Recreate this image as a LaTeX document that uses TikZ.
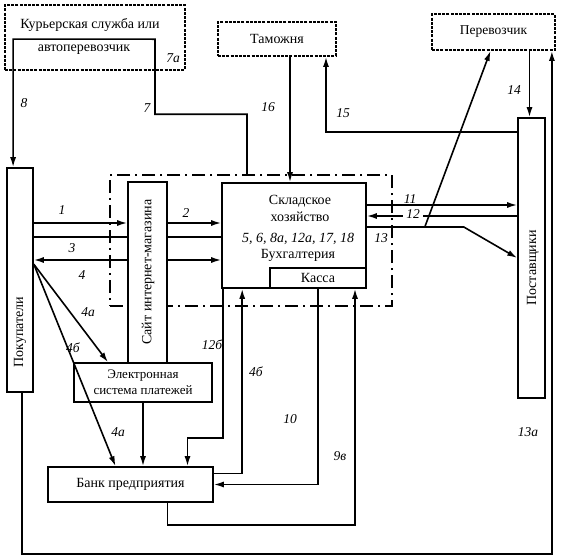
\documentclass[tikz,border=0pt]{standalone}
\usepackage{fontspec}
\setmainfont{Liberation Serif}
\usetikzlibrary{positioning}
\usetikzlibrary{arrows.meta}
\tikzstyle{box}=[draw, rectangle, inner sep=0pt]
\tikzstyle{dotbox}=[draw, rectangle, inner sep=0pt, line width=1.8pt, dash pattern=on 3pt off 1.2pt]
\tikzstyle{ddbox}=[draw, rectangle, inner sep=0pt, dash pattern=on 13pt off 5pt on 2pt off 5pt]
\tikzstyle{num}=[font=\fontsize{13.5}{15}\selectfont\itshape, inner sep=1pt]
\tikzstyle{conn}=[-{Latex[length=10pt,width=6pt]}]

\begin{document}
\begin{tikzpicture}[x=1pt, y=-1pt, line width=1.6pt, font=\fontsize{14}{16}\selectfont]
				\useasboundingbox (0,0) rectangle (566,560);
				
				\node (cour) [dotbox, minimum width=180, minimum height=65] at (95,37.5) {};
				\node (courA) at (90,25) {Курьерская служба или};
				\node (courB) at (84,50) {автоперевозчик};
				\node (tam) [dotbox, minimum width=118, minimum height=34] at (277,39) {Таможня};
				\node (per) [dotbox, minimum width=123, minimum height=36, font=\fontsize{13.5}{15}\selectfont] at (493.5,32) {Перевозчик};
				
				\node (org) [ddbox, minimum width=282, minimum height=131] at (251,240.5) {};
				
				\node (buy) [box, minimum width=26, minimum height=224] at (20,280) {};
				\node (buyT) [rotate=90] at (20,332) {Покупатели};
				\node (site) [box, fill=white, minimum width=39, minimum height=181] at (147.5,272.5) {};
				\node (siteT) [rotate=90] at (148,272) {Сайт интернет-магазина};
				
				\node (wh) [box, minimum width=144, minimum height=105] at (294,235.5) {};
				\node (kassa) [box, minimum width=96, minimum height=20, anchor=south east] at (wh.south east) {Касса};
				\node (whA) [align=center, font=\fontsize{14}{17}\selectfont] at (300,208) {Складское\\хозяйство};
				\node (whB) [align=center] at (298,247) {\textit{5, 6, 8а, 12а, 17, 18}\\Бухгалтерия};
				
				\node (eps) [box, minimum width=138, minimum height=39, align=center, font=\fontsize{13}{16}\selectfont] at (143,382.5) {Электронная\\система платежей};
				\node (bank) [box, minimum width=165, minimum height=35] at (130.5,484.5) {Банк предприятия};
				\node (sup) [box, minimum width=27, minimum height=280] at (531.5,258) {};
				\node (supT) [rotate=90] at (533,268) {Поставщики};
				
				\coordinate (y1) at (0,223);
				\coordinate (y3) at (0,237);
				\coordinate (y4) at (0,260);
				\coordinate (y11) at (0,205);
				\coordinate (y12) at (0,216);
				\coordinate (y13) at (0,227);
				
				\draw [conn] (buy.east |- y1) -- (site.west |- y1);
				\draw [conn] (site.east |- y1) -- (wh.west |- y1);
				\draw (wh.west |- y3) -- (site.east |- y3);
				\draw (site.west |- y3) -- (buy.east |- y3);
				\draw [conn] (site.east |- y4) -- (wh.west |- y4);
				\draw [conn] (site.west |- y4) -- (buy.east |- y4);
				
				\path (buy.north east) ++(0,97) coordinate (fan);
				\draw [conn] (fan) -- ([xshift=-35]eps.north);
				\draw [conn] (fan) -- ([xshift=-15]bank.north);
				\draw [conn] (eps.south) -- (eps.south |- bank.north);
				\draw [conn] ([xshift=2]wh.south west) -- ++(0,149) -| ([xshift=57]bank.north);
				\draw [conn] ([yshift=11]bank.east) -| ([xshift=21]wh.south west);
				\draw [conn] (kassa.south) |- (bank.east);
				\draw [conn] ([xshift=37]bank.south) -- ++(0,22) -| ([xshift=37]kassa.south);
				
				\coordinate (c7) at ([xshift=-4]org.north);
				\path (cour.north west) ++(9,35) coordinate (c8);
				\draw [conn] (c7) -- ++(0,-60) -- ++(-92,0) -- ++(0,-75) -- (c8) -- (c8 |- buy.north);
				
				\path ([xshift=13]tam.south) coordinate (c16);
				\draw [conn] (c16) -- (c16 |- wh.north);
				\path ([yshift=-15]sup.north west) coordinate (c15);
				\draw [conn] (c15) -| ([xshift=49]tam.south);
				\path ([xshift=36]per.south) coordinate (c14);
				\draw [conn] (c14) -- (c14 |- sup.north);
				\draw [conn] ([xshift=2]buy.south) -- ++(0,161) -| ([xshift=-4]per.south east);
				
				\draw [conn] (wh.east |- y11) -- (sup.west |- y11);
				\draw [conn] (sup.west |- y12) -- (wh.east |- y12);
				\draw [conn] (wh.east |- y13) -- ++(97,0) -- (sup.west);
				\path (wh.east |- y13) ++(58,0) coordinate (c13);
				\draw [conn] (c13) -- ([xshift=-3]per.south);
				
				\node (l8) [num] at (24,103) {8};
				\node (l7) [num] at (147,108) {7};
				\node (l7a) [num] at (173,58) {7а};
				\node (l16) [num] at (268,107) {16};
				\node (l15) [num] at (343,113) {15};
				\node (l14) [num] at (514,90) {14};
				\node (l1) [num] at (62,210) {1};
				\node (l2) [num] at (186,213) {2};
				\node (l3) [num] at (72,248) {3};
				\node (l4) [num] at (82,275) {4};
				\node (l4a) [num] at (88,312) {4а};
				\node (l4b) [num] at (73,348) {4б};
				\node (l12b) [num] at (212,345) {12б};
				\node (l4bb) [num] at (256,372) {4б};
				\node (l10) [num] at (290,419) {10};
				\node (l4aa) [num] at (118,432) {4а};
				\node (l9v) [num] at (340,456) {9в};
				\node (l13a) [num] at (528,432) {13а};
				\node (l11) [num, fill=white, inner xsep=4pt] at (410,199) {11};
				\node (l12) [num, fill=white, inner xsep=3pt] at (413,214) {12};
				\node (l13) [num] at (381,238) {13};
				\end{tikzpicture}
\end{document}
